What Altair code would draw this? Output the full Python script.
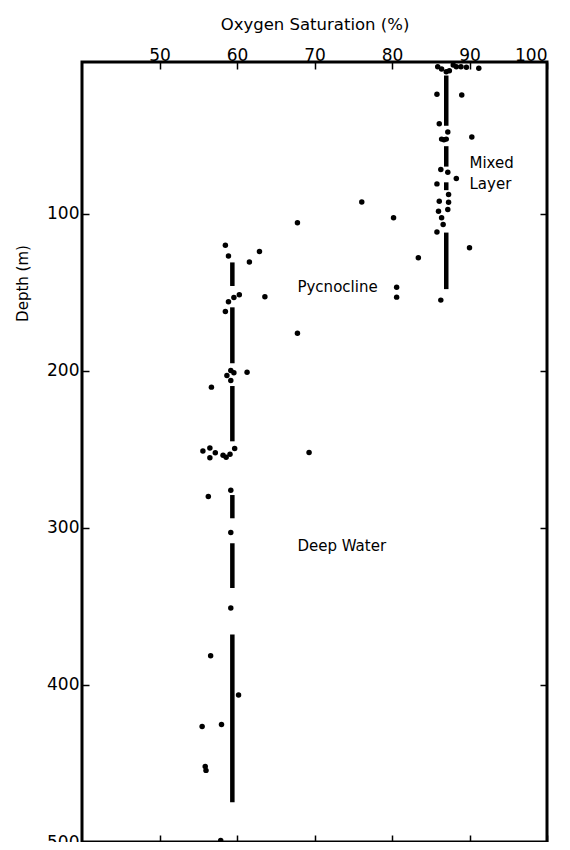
import altair as alt
import pandas as pd

# Oxygen saturation (%) and depth (m) of the observations
obs_x = [85.9, 86.4, 87.0, 87.4, 87.9, 88.3, 88.9, 89.6, 91.2,
         85.8, 89.0, 86.1, 87.2, 86.4, 86.7, 87.0, 90.3,
         86.3, 87.2, 85.8, 88.3, 87.3, 86.1, 87.3, 86.0, 87.2, 86.4, 86.6, 85.8, 90.0,
         76.1, 80.2, 67.8, 83.4, 80.6, 80.6, 86.3,
         58.5, 58.9, 61.6, 62.9, 58.9, 59.6, 60.3, 63.6, 58.5, 67.8,
         59.2, 59.6, 58.7, 59.2, 61.3, 56.7,
         55.6, 56.5, 57.2, 56.5, 58.2, 58.6, 59.1, 59.7, 69.3,
         59.2, 56.3, 59.2, 59.2, 56.6, 60.2, 55.5, 58.0, 55.9, 56.0, 57.9]
obs_depth = [6.4, 7.9, 9.6, 8.9, 5.3, 6.4, 6.4, 6.8, 7.4,
             23.9, 24.4, 42.7, 48.0, 52.5, 52.9, 52.5, 51.2,
             71.9, 73.6, 81.0, 77.6, 87.8, 92.0, 92.7, 98.4, 97.3, 102.6, 106.8, 111.7, 121.6,
             92.6, 102.6, 105.7, 128.0, 146.8, 153.1, 155.0,
             120.1, 126.9, 130.7, 124.1, 156.1, 153.3, 151.6, 152.9, 162.2, 176.1,
             199.8, 201.3, 203.0, 206.2, 200.9, 210.4,
             251.0, 249.1, 252.2, 255.4, 253.8, 255.0, 253.1, 249.5, 252.0,
             276.0, 280.1, 303.0, 351.0, 381.4, 406.4, 426.5, 425.2, 452.0, 454.4, 499.0]

# Mean-value bars (thick vertical segments)
bar_x = [87.0, 87.0, 87.0, 87.0,
         59.4, 59.4, 59.4, 59.4, 59.4, 59.4]
bar_top = [12.0, 57.0, 80.0, 112.0,
           131.0, 159.6, 209.7, 279.1, 309.8, 367.9]
bar_bottom = [44.0, 70.0, 85.0, 148.0,
              146.0, 195.2, 244.9, 293.9, 338.3, 474.7]

# Annotations
lab_text = ["Mixed", "Layer", "Pycnocline", "Deep Water"]
lab_x = [90.0, 90.0, 67.8, 67.8]
lab_depth = [67.8, 81.1, 146.8, 311.7]

x_ticks = [50, 60, 70, 80, 90, 100]
y_ticks = [100, 200, 300, 400, 500]

obs = pd.DataFrame({"sat": obs_x, "depth": obs_depth})
bars = pd.DataFrame({"sat": bar_x, "top": bar_top, "bottom": bar_bottom})
labs = pd.DataFrame({"text": lab_text, "sat": lab_x, "depth": lab_depth})

FONT = "DejaVu Sans"
xscale = alt.Scale(domain=[40, 100], nice=False, zero=False)
yscale = alt.Scale(domain=[3.4, 500], reverse=True, nice=False, zero=False)

top_axis = alt.Axis(orient="top", values=x_ticks, offset=-7, tickSize=7, tickWidth=1.5,
                    tickColor="black", domain=False, grid=False, labelFont=FONT,
                    labelFontSize=17, labelColor="black", labelPadding=2,
                    labelBaseline="alphabetic",
                    title="Oxygen Saturation (%)", titleFont=FONT, titleFontSize=16.5,
                    titleFontWeight="normal", titleColor="black",
                    titleY=-45, titleBaseline="middle", titleAlign="center")
left_axis = alt.Axis(orient="left", values=y_ticks, offset=-7, tickSize=7, tickWidth=1.5,
                     tickColor="black", domain=False, grid=False, labelFont=FONT,
                     labelFontSize=17, labelColor="black", labelPadding=3,
                     title="Depth (m)", titleFont=FONT, titleFontSize=15,
                     titleFontWeight="normal", titleColor="black",
                     titleX=-67, titleY=221, titleAlign="center", titleBaseline="middle")
bottom_axis = alt.Axis(orient="bottom", values=x_ticks, offset=-7, tickSize=7, tickWidth=1.5,
                       tickColor="black", domain=False, grid=False, labels=False, title=None)
right_axis = alt.Axis(orient="right", values=y_ticks, offset=-7, tickSize=7, tickWidth=1.5,
                      tickColor="black", domain=False, grid=False, labels=False, title=None)

points = alt.Chart(obs).mark_point(filled=True, color="black", size=30, opacity=1).encode(
    x=alt.X("sat:Q", scale=xscale, axis=top_axis),
    y=alt.Y("depth:Q", scale=yscale, axis=left_axis),
)

rules = alt.Chart(bars).mark_rule(color="black", strokeWidth=4.5).encode(
    x=alt.X("sat:Q", scale=xscale, axis=bottom_axis),
    y=alt.Y("top:Q", scale=yscale, axis=right_axis),
    y2="bottom:Q",
)

texts = alt.Chart(labs).mark_text(font=FONT, fontSize=15, color="black",
                                  align="left", baseline="middle").encode(
    x=alt.X("sat:Q", scale=xscale, axis=None),
    y=alt.Y("depth:Q", scale=yscale, axis=None),
    text="text:N",
)

chart = alt.layer(points, rules, texts).resolve_axis(
    x="independent", y="independent"
).properties(
    width=465, height=780,
    autosize=alt.AutoSizeParams(type="none"),
    padding={"left": 74, "top": 54, "right": 15, "bottom": 0},
).configure_view(stroke="black", strokeWidth=3)

chart.save("out.html", embed_options={"renderer": "svg", "actions": False})
